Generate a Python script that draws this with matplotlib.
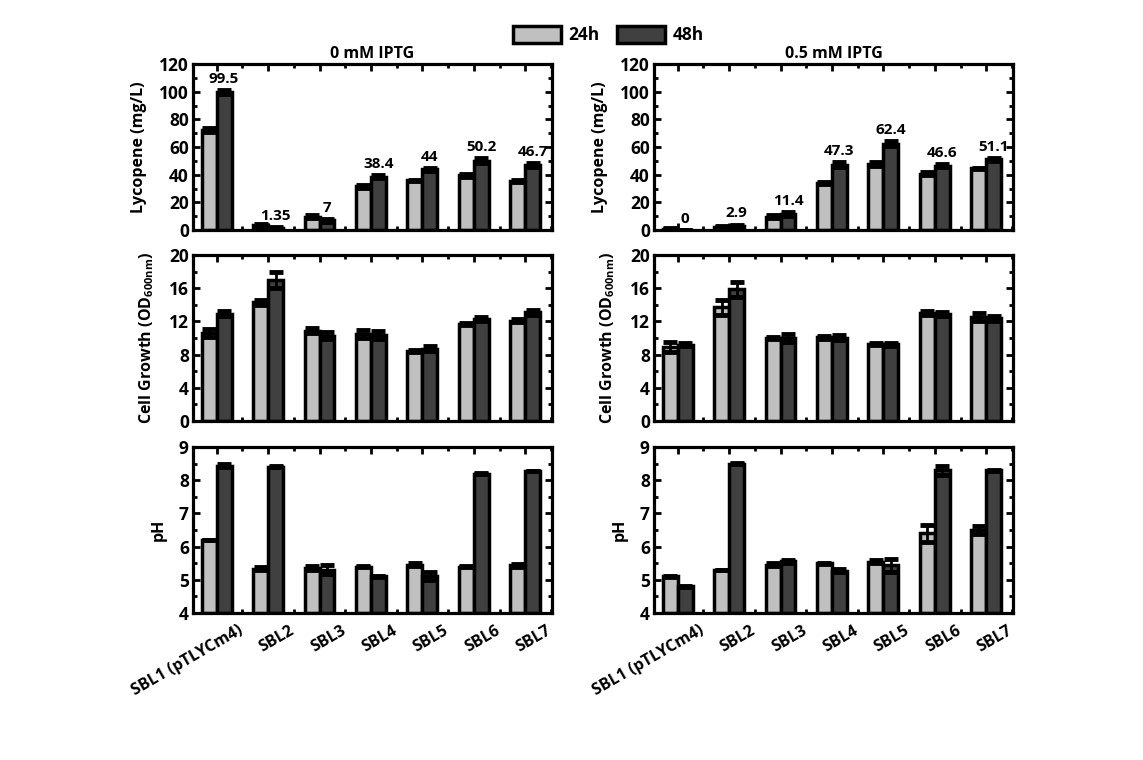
import numpy as np
import matplotlib
matplotlib.use('Agg')
import matplotlib.pyplot as plt
from matplotlib.ticker import MultipleLocator
from matplotlib.patches import Patch
from matplotlib.transforms import ScaledTranslation

plt.rcParams['font.family'] = ['Open Sans', 'DejaVu Sans']
plt.rcParams['font.weight'] = 'bold'
plt.rcParams['axes.labelweight'] = 'bold'
plt.rcParams['mathtext.fontset'] = 'custom'
plt.rcParams['mathtext.bf'] = 'Open Sans:bold'
plt.rcParams['mathtext.rm'] = 'Open Sans:bold'
plt.rcParams['mathtext.default'] = 'bf'

strains = ['SBL1 (pTLYCm4)', 'SBL2', 'SBL3', 'SBL4', 'SBL5', 'SBL6', 'SBL7']
conditions = ['0 mM IPTG', '0.5 mM IPTG']

# lycopene (mg/L)
lyc_24_0 = [72, 3.5, 9.6, 31.7, 36, 39.6, 35.3]
lyc_48_0 = [99.5, 1.35, 7, 38.4, 44, 50.2, 46.7]
lyc_24_5 = [0.8, 2.5, 9.7, 34, 47.5, 40.6, 44.5]
lyc_48_5 = [0, 2.9, 11.4, 47.3, 62.4, 46.6, 51.1]
lyc_err24_0 = [1.5, 1, 1, 1, 0.5, 1, 0.5]
lyc_err48_0 = [1.5, 0.5, 1, 1, 1, 1.5, 1.5]
lyc_err24_5 = [0.3, 0.5, 1, 0.5, 1.5, 1, 0.5]
lyc_err48_5 = [0, 1, 1.5, 1.5, 2, 1, 1]
lyc_lab_0 = ['99.5', '1.35', '7', '38.4', '44', '50.2', '46.7']
lyc_lab_5 = ['0', '2.9', '11.4', '47.3', '62.4', '46.6', '51.1']

# cell growth (OD600)
od_24_0 = [10.6, 14.3, 10.9, 10.5, 8.4, 11.7, 12.1]
od_48_0 = [12.9, 17.0, 10.3, 10.4, 8.7, 12.3, 13.1]
od_24_5 = [8.9, 13.7, 10.0, 10.1, 9.25, 13.0, 12.5]
od_48_5 = [9.2, 15.9, 10.0, 10.05, 9.25, 12.9, 12.4]
od_err24_0 = [0.5, 0.3, 0.3, 0.5, 0.1, 0.1, 0.2]
od_err48_0 = [0.3, 1.0, 0.4, 0.5, 0.3, 0.2, 0.3]
od_err24_5 = [0.6, 0.9, 0.1, 0.2, 0.1, 0.2, 0.5]
od_err48_5 = [0.2, 0.9, 0.5, 0.3, 0.2, 0.2, 0.3]

# pH
ph_24_0 = [6.2, 5.34, 5.36, 5.4, 5.46, 5.4, 5.44]
ph_48_0 = [8.44, 8.41, 5.31, 5.1, 5.11, 8.2, 8.28]
ph_24_5 = [5.1, 5.3, 5.46, 5.5, 5.55, 6.4, 6.5]
ph_48_5 = [4.8, 8.5, 5.56, 5.28, 5.44, 8.3, 8.3]
ph_err24_0 = [0.01, 0.05, 0.05, 0.01, 0.05, 0.01, 0.05]
ph_err48_0 = [0.05, 0.01, 0.13, 0.01, 0.12, 0.01, 0.01]
ph_err24_5 = [0.01, 0.01, 0.05, 0.01, 0.05, 0.25, 0.12]
ph_err48_5 = [0.01, 0.01, 0.05, 0.05, 0.2, 0.13, 0.01]

light = '#c0c0c0'
dark = '#404040'
bw = 0.29

fig = plt.figure(figsize=(11.43, 7.6), dpi=100)

lefts = [193 / 1143, 654 / 1143]
bottoms = [1 - 230 / 760, 1 - 421 / 760, 1 - 613 / 760]
w = 359 / 1143
h = 166 / 760

panels = [
    [(lyc_24_0, lyc_48_0, lyc_err24_0, lyc_err48_0), (lyc_24_5, lyc_48_5, lyc_err24_5, lyc_err48_5)],
    [(od_24_0, od_48_0, od_err24_0, od_err48_0), (od_24_5, od_48_5, od_err24_5, od_err48_5)],
    [(ph_24_0, ph_48_0, ph_err24_0, ph_err48_0), (ph_24_5, ph_48_5, ph_err24_5, ph_err48_5)],
]
ylims = [(0, 120, 20), (0, 20, 4), (4, 9, 1)]
ylabels = ['Lycopene (mg/L)', 'Cell Growth (OD$_{600nm}$)', 'pH']
x = np.arange(1, len(strains) + 1)

for r in range(3):
    for c in range(2):
        ax = fig.add_axes([lefts[c], bottoms[r], w, h])
        v24, v48, e24, e48 = panels[r][c]
        lo, hi, step = ylims[r]
        ax.bar(x - bw / 2, np.array(v24) - lo, bw, bottom=lo, color=light,
               edgecolor='black', linewidth=2.5, zorder=2)
        ax.bar(x + bw / 2, np.array(v48) - lo, bw, bottom=lo, color=dark,
               edgecolor='black', linewidth=2.5, zorder=2)
        ax.errorbar(x - bw / 2, v24, yerr=e24, fmt='none', ecolor='black',
                    elinewidth=2, capsize=5, capthick=3.5, zorder=3)
        ax.errorbar(x + bw / 2, v48, yerr=e48, fmt='none', ecolor='black',
                    elinewidth=2, capsize=5, capthick=3.5, zorder=3)
        ax.set_xlim(0.54, 7.52)
        ax.set_ylim(lo, hi)
        ax.yaxis.set_major_locator(MultipleLocator(step))
        ax.yaxis.set_minor_locator(MultipleLocator(step / 2))
        ax.set_xticks(x)
        ax.xaxis.set_minor_locator(MultipleLocator(0.5))
        ax.tick_params(which='both', direction='in', top=True, right=True,
                       width=2, labelsize=12.5, pad=3)
        ax.tick_params(which='major', length=5)
        ax.tick_params(which='minor', length=3)
        for sp in ax.spines.values():
            sp.set_linewidth(2.3)
        for t in ax.get_yticklabels():
            t.set_fontweight('bold')
        ax.set_ylabel(ylabels[r], fontsize=11.5, fontweight='bold', labelpad=9)
        if r == 2:
            ax.set_xticklabels(strains, rotation=30, ha='right', va='center',
                               rotation_mode='anchor', fontsize=11.5, fontweight='bold')
            shift = ScaledTranslation(0.25, -0.12, fig.dpi_scale_trans)
            for t in ax.get_xticklabels():
                t.set_transform(t.get_transform() + shift)
        else:
            ax.set_xticklabels([])
        if r == 0:
            ax.set_title(conditions[c], fontsize=11.5, fontweight='bold', pad=4)
            labs = lyc_lab_0 if c == 0 else lyc_lab_5
            for xi, yi, ei, s in zip(x, v48, e48, labs):
                ax.annotate(s, (xi + bw / 2, yi + ei), xytext=(0, 3),
                            textcoords='offset points', ha='center', va='bottom',
                            fontsize=11, fontweight='bold')

handles = [Patch(facecolor=light, edgecolor='black', linewidth=2.5, label='24h'),
           Patch(facecolor=dark, edgecolor='black', linewidth=2.5, label='48h')]
fig.legend(handles=handles, loc='center', bbox_to_anchor=(0.532, 1 - 35 / 760),
           ncol=2, frameon=False, handlelength=2.8, handleheight=1.2,
           columnspacing=1.0, handletextpad=0.4,
           prop={'weight': 'bold', 'size': 12.5})

plt.savefig('out.png', dpi=100)
